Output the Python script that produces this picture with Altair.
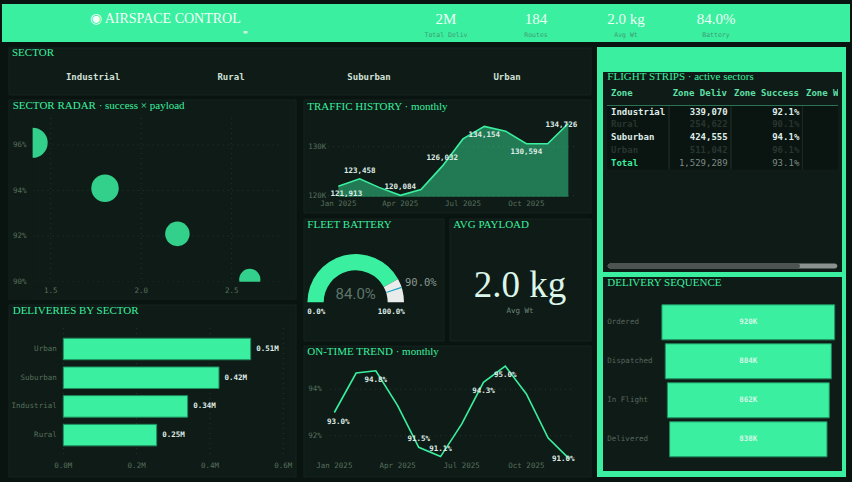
import altair as alt
import pandas as pd

# ---------------- data ----------------
SECTORS = ["Industrial", "Rural", "Suburban", "Urban"]
SECTOR_DELIVERIES = [339070, 254622, 424555, 511042]
SECTOR_SUCCESS = [92.1, 90.1, 94.1, 96.1]
SECTOR_PAYLOAD_KG = [2.2, 2.6, 1.8, 1.4]
ACTIVE_SECTORS = ["Industrial", "Suburban"]

MONTHS = pd.date_range("2025-01-01", periods=12, freq="MS")
MONTHLY_DELIVERIES = [121913, 123458, 121702, 120084, 121268, 126032,
                      131594, 134154, 133168, 130594, 130596, 134726]
MONTHLY_ON_TIME = [93.0, 94.7, 94.8, 93.3, 91.5, 91.1,
                   92.5, 94.3, 95.0, 93.8, 91.9, 91.0]

FUNNEL_STAGES = ["Ordered", "Dispatched", "In Flight", "Delivered"]
FUNNEL_COUNTS = [920000, 884000, 862000, 838000]

ROUTES = 184
FLEET_BATTERY = 84.0
BATTERY_TARGET = 90.0

KPI_LABELS = ["Total Deliv", "Routes", "Avg Wt", "Battery"]
TABLE_HEADERS = ["Zone", "Zone Deliv", "Zone Success", "Zone Wt"]

RADAR_X_TICKS = [1.5, 2.0, 2.5]
RADAR_Y_TICKS = [90, 92, 94, 96]
TRAFFIC_Y_TICKS = [120000, 130000]
ONTIME_Y_TICKS = [92, 94]
DELIV_X_TICKS = [0, 200000, 400000, 600000]

TOTAL_DELIVERIES = sum(SECTOR_DELIVERIES)
AVG_SUCCESS = sum(SECTOR_SUCCESS) / len(SECTOR_SUCCESS)
AVG_PAYLOAD = sum(SECTOR_PAYLOAD_KG) / len(SECTOR_PAYLOAD_KG)

# ---------------- style ----------------
GREEN = "#3AF0A0"
BG = "#09130f"
PANEL = "#0f1b16"
PANEL_EDGE = "#15251e"
GRID = "#22372d"
AXIS_TXT = "#56705f"
LIGHT = "#dfece6"
DIM = "#28352f"
SERIF = "Liberation Serif"
MONO = "DejaVu Sans Mono"

ONE = pd.DataFrame({"k": [0]})


def rect(x1, y1, x2, y2, fill, **kw):
    return alt.Chart(ONE).mark_rect(fill=fill, **kw).encode(
        x=alt.value(x1), x2=alt.value(x2), y=alt.value(y1), y2=alt.value(y2))


def text(x, y, s, size, color, font=MONO, weight="normal", align="left",
         baseline="middle", **kw):
    return alt.Chart(ONE).mark_text(
        text=s, fontSize=size, color=color, font=font, fontWeight=weight,
        align=align, baseline=baseline, **kw).encode(x=alt.value(x), y=alt.value(y))


def panel(x1, y1, x2, y2):
    return rect(x1, y1, x2, y2, PANEL, stroke=PANEL_EDGE, strokeWidth=1)


def title(x, y, s):
    return text(x, y, s, 11, GREEN, font=SERIF)


def lin(domain, rng):
    return alt.Scale(domain=domain, range=rng, zero=False, nice=False)


def ticks(values):
    return pd.DataFrame({"v": values})


layers = []

# ---------------- banner ----------------
kpi_df = pd.DataFrame({
    "label": KPI_LABELS,
    "value": [f"{round(TOTAL_DELIVERIES / 1e6)}M", f"{ROUTES}",
              f"{AVG_PAYLOAD:.1f} kg", f"{FLEET_BATTERY:.1f}%"],
})
KPI_X = alt.Scale(type="point", domain=KPI_LABELS, range=[401, 761], padding=0.5)
layers += [
    rect(2, 4, 850, 42, GREEN),
    text(90, 18.5, "◉ AIRSPACE CONTROL", 14, "#f4fff9", font=SERIF),
    rect(243.5, 31, 247.5, 33.5, "#cfeee0"),
    alt.layer(
        alt.Chart(kpi_df).mark_text(font=SERIF, fontSize=15, color="#effff7").encode(
            x=alt.X("label:N", scale=KPI_X, axis=None), y=alt.value(18.5), text="value:N"),
        alt.Chart(kpi_df).mark_text(font=MONO, fontSize=6.5, color="#3f9c74").encode(
            x=alt.X("label:N", scale=KPI_X, axis=None), y=alt.value(35), text="label:N"),
    ),
]

# ---------------- panels ----------------
layers += [
    panel(9, 48, 591, 95),
    panel(9, 100, 296, 299),
    panel(9, 305, 296, 477),
    panel(304, 100, 591, 213),
    panel(304, 219, 444, 341),
    panel(450, 219, 591, 341),
    panel(304, 346, 591, 477),
    rect(597, 47, 846, 477, GREEN),
    rect(603, 72, 842, 272, PANEL),
    rect(603, 277, 842, 471, PANEL),
]

# ---------------- sector strip ----------------
layers += [
    title(12, 53, "SECTOR"),
    alt.Chart(pd.DataFrame({"sector": SECTORS})).mark_text(
        font=MONO, fontSize=9, fontWeight="bold", color="#cfe0d8").encode(
        x=alt.X("sector:N", scale=alt.Scale(type="point", domain=SECTORS,
                                             range=[24, 576], padding=0.5), axis=None),
        y=alt.value(76.5), text="sector:N"),
]

# ---------------- sector radar (scatter) ----------------
radar_df = pd.DataFrame({"sector": SECTORS, "payload": SECTOR_PAYLOAD_KG,
                         "success": SECTOR_SUCCESS, "deliveries": SECTOR_DELIVERIES})
RX = lin([1.4, 2.8], [32.6, 286])
RY = lin([90, 96], [281.7, 145])
layers += [
    alt.layer(
        alt.Chart(ticks(RADAR_Y_TICKS)).mark_rule(color=GRID, strokeDash=[1, 4]).encode(
            y=alt.Y("v:Q", scale=RY, axis=None), x=alt.value(32.6), x2=alt.value(283)),
        alt.Chart(ticks(RADAR_X_TICKS)).mark_rule(color=GRID, strokeDash=[1, 4]).encode(
            x=alt.X("v:Q", scale=RX, axis=None), y=alt.value(118), y2=alt.value(281.7)),
        alt.Chart(radar_df).mark_circle(color=GREEN, opacity=0.85).encode(
            x=alt.X("payload:Q", scale=RX, axis=None),
            y=alt.Y("success:Q", scale=RY, axis=None),
            size=alt.Size("deliveries:Q", scale=alt.Scale(domain=[0, 520000], range=[0, 924]),
                          legend=None)),
        # plot-area clipping on the left and bottom edges
        rect(9.5, 116, 32.6, 298.5, PANEL),
        rect(9.5, 281.7, 295.5, 298.5, PANEL),
        alt.Chart(ticks(RADAR_Y_TICKS)).transform_calculate(t="datum.v + '%'").mark_text(
            font=MONO, fontSize=7.5, color=AXIS_TXT, align="left").encode(
            x=alt.value(13), y=alt.Y("v:Q", scale=RY, axis=None), text="t:N"),
        alt.Chart(ticks(RADAR_X_TICKS)).mark_text(
            font=MONO, fontSize=7.5, color=AXIS_TXT).encode(
            x=alt.X("v:Q", scale=RX, axis=None), y=alt.value(290.5),
            text=alt.Text("v:Q", format=".1f")),
    ),
    title(12.7, 106, "SECTOR RADAR · success × payload"),
]

# ---------------- deliveries by sector ----------------
order = [s for _, s in sorted(zip(SECTOR_DELIVERIES, SECTORS), reverse=True)]
deliv_df = pd.DataFrame({"sector": SECTORS, "deliveries": SECTOR_DELIVERIES})
DX = lin([0, 600000], [63.3, 283.3])
DY = alt.Scale(type="band", domain=order, range=[334.65, 449.45],
               paddingInner=0.25, paddingOuter=0.125)
layers += [
    title(12.7, 311, "DELIVERIES BY SECTOR"),
    alt.layer(
        alt.Chart(ticks(DELIV_X_TICKS)).mark_rule(color=GRID, strokeDash=[1, 4]).encode(
            x=alt.X("v:Q", scale=DX, axis=None), y=alt.value(328), y2=alt.value(457)),
        alt.Chart(deliv_df).mark_bar(color=GREEN, stroke="#1f8c5e", strokeWidth=1).encode(
            x=alt.X("deliveries:Q", scale=DX, axis=None),
            y=alt.Y("sector:N", scale=DY, axis=None)),
        alt.Chart(deliv_df).transform_calculate(
            t="format(datum.deliveries / 1e6, '.2f') + 'M'").mark_text(
            font=MONO, fontSize=7.5, fontWeight="bold", color=LIGHT, align="left", dx=5.5).encode(
            x=alt.X("deliveries:Q", scale=DX, axis=None),
            y=alt.Y("sector:N", scale=DY, axis=None), text="t:N"),
        alt.Chart(deliv_df).mark_text(
            font=MONO, fontSize=7.5, color=AXIS_TXT, align="right").encode(
            x=alt.value(56.7), y=alt.Y("sector:N", scale=DY, axis=None), text="sector:N"),
        alt.Chart(ticks(DELIV_X_TICKS)).transform_calculate(
            t="format(datum.v / 1e6, '.1f') + 'M'").mark_text(
            font=MONO, fontSize=7.5, color=AXIS_TXT).encode(
            x=alt.X("v:Q", scale=DX, axis=None), y=alt.value(466), text="t:N"),
    ),
]

# ---------------- traffic history ----------------
traffic_df = pd.DataFrame({"month": MONTHS, "deliveries": MONTHLY_DELIVERIES})
TX = alt.Scale(type="time",
               domain=[alt.DateTime(year=2024, month=12, date=17),
                       alt.DateTime(year=2025, month=12, date=14)],
               range=[328, 577.3], nice=False)
TY = lin([119800, 136000], [196.7, 117.3])
month_ticks = pd.DataFrame({"month": MONTHS[[0, 3, 6, 9]]})


def point_labels(df, field, xs, ys, fmt, groups):
    """Value labels for a monthly series, placed above / below / beside the line."""
    out = []
    for months, dx, dy in groups:
        out.append(
            alt.Chart(df).transform_calculate(m="month(datum.month)").transform_filter(
                f"indexof({months}, datum.m) >= 0").mark_text(
                font=MONO, fontSize=7.5, fontWeight="bold", color=LIGHT, dx=dx, dy=dy).encode(
                x=alt.X("month:T", scale=xs, axis=None),
                y=alt.Y(f"{field}:Q", scale=ys, axis=None),
                text=alt.Text(f"{field}:Q", format=fmt)))
    return out


layers += [
    title(307.3, 106.7, "TRAFFIC HISTORY · monthly"),
    alt.layer(
        alt.Chart(ticks(TRAFFIC_Y_TICKS)).mark_rule(color=GRID, strokeDash=[1, 4]).encode(
            y=alt.Y("v:Q", scale=TY, axis=None), x=alt.value(328), x2=alt.value(577)),
        alt.Chart(traffic_df).mark_area(color=GREEN, opacity=0.45).encode(
            x=alt.X("month:T", scale=TX, axis=None),
            y=alt.Y("deliveries:Q", scale=TY, axis=None),
            y2=alt.datum(119800)),
        alt.Chart(traffic_df).mark_line(color=GREEN, strokeWidth=1.6).encode(
            x=alt.X("month:T", scale=TX, axis=None),
            y=alt.Y("deliveries:Q", scale=TY, axis=None)),
        *point_labels(traffic_df, "deliveries", TX, TY, ",d",
                      [([0], 8, 8), ([1, 3, 5], 0, -8), ([7, 9], 0, 8.5), ([11], -7, 1)]),
        alt.Chart(ticks(TRAFFIC_Y_TICKS)).transform_calculate(
            t="format(datum.v / 1000, 'd') + 'K'").mark_text(
            font=MONO, fontSize=7.5, color=AXIS_TXT, align="left").encode(
            x=alt.value(308.3), y=alt.Y("v:Q", scale=TY, axis=None), text="t:N"),
        alt.Chart(month_ticks).mark_text(font=MONO, fontSize=7.5, color=AXIS_TXT).encode(
            x=alt.X("month:T", scale=TX, axis=None), y=alt.value(203.5),
            text=alt.Text("month:T", timeUnit="yearmonth", format="%b %Y")),
    ),
]

# ---------------- on-time trend ----------------
ontime_df = pd.DataFrame({"month": MONTHS, "on_time": MONTHLY_ON_TIME})
OX = alt.Scale(type="time",
               domain=[alt.DateTime(year=2024, month=12, date=22),
                       alt.DateTime(year=2025, month=12, date=6)],
               range=[327.3, 572.8], nice=False)
OY = lin([92, 94], [435.7, 389.3])
layers += [
    title(307.3, 351.7, "ON-TIME TREND · monthly"),
    alt.layer(
        alt.Chart(ticks(ONTIME_Y_TICKS)).mark_rule(color=GRID, strokeDash=[1, 4]).encode(
            y=alt.Y("v:Q", scale=OY, axis=None), x=alt.value(330), x2=alt.value(572)),
        alt.Chart(ontime_df).mark_line(color=GREEN, strokeWidth=1.6).encode(
            x=alt.X("month:T", scale=OX, axis=None),
            y=alt.Y("on_time:Q", scale=OY, axis=None)),
        *[c.transform_calculate(t="format(datum.on_time, '.1f') + '%'").encode(text="t:N")
          for c in point_labels(ontime_df, "on_time", OX, OY, ".1f",
                                [([0], 4, 9.5), ([2, 7, 8], 0, 9), ([4, 5], 0, -8),
                                 ([11], -6, 0)])],
        alt.Chart(ticks(ONTIME_Y_TICKS)).transform_calculate(t="datum.v + '%'").mark_text(
            font=MONO, fontSize=7.5, color=AXIS_TXT, align="left").encode(
            x=alt.value(308.3), y=alt.Y("v:Q", scale=OY, axis=None), text="t:N"),
        alt.Chart(month_ticks).mark_text(font=MONO, fontSize=7.5, color=AXIS_TXT).encode(
            x=alt.X("month:T", scale=OX, axis=None), y=alt.value(466.3),
            text=alt.Text("month:T", timeUnit="yearmonth", format="%b %Y")),
    ),
]

# ---------------- fleet battery gauge ----------------
gauge_df = pd.DataFrame({
    "start": [0, FLEET_BATTERY, BATTERY_TARGET - 0.5],
    "end": [FLEET_BATTERY, 100, BATTERY_TARGET + 0.5],
    "part": ["charge", "rest", "target"],
})
THETA = alt.Scale(domain=[0, 100], range=[4.71239, 7.85398])
GAUGE_COLORS = alt.Scale(domain=["charge", "rest", "target"],
                         range=[GREEN, "#e9ecea", "#1ba3c6"])
layers += [
    title(307.3, 225, "FLEET BATTERY"),
    alt.Chart(gauge_df).mark_arc(radius=48.3, radius2=32).encode(
        theta=alt.Theta("start:Q", scale=THETA),
        theta2="end:Q",
        color=alt.Color("part:N", scale=GAUGE_COLORS, legend=None),
        x=alt.value(355.7), y=alt.value(302.3)),
    text(355.7, 294, f"{FLEET_BATTERY:.1f}%", 15, "#5d756b", font="Roboto", align="center"),
    text(405, 283.3, f"{BATTERY_TARGET:.1f}%", 10.5, "#8a9993", align="left"),
    text(307.3, 311.7, "0.0%", 7.5, LIGHT, weight="bold"),
    text(377.7, 311.7, "100.0%", 7.5, LIGHT, weight="bold"),
]

# ---------------- avg payload ----------------
layers += [
    title(453.3, 225, "AVG PAYLOAD"),
    text(520, 297, f"{AVG_PAYLOAD:.1f} kg", 37, "#dcf6ea", font=SERIF,
         align="center", baseline="alphabetic"),
    text(520, 310.7, "Avg Wt", 7.5, "#6d887c", align="center"),
]

# ---------------- flight strips table ----------------
ROWS = SECTORS + ["Total"]
table_df = pd.DataFrame({
    "zone": ROWS,
    "deliveries": SECTOR_DELIVERIES + [TOTAL_DELIVERIES],
    "success": SECTOR_SUCCESS + [round(AVG_SUCCESS, 1)],
})
ROW_Y = alt.Scale(type="point", domain=ROWS, range=[111.7, 162.7], padding=0)
row_color = (f"datum.zone == 'Total' ? '{GREEN}' : "
             f"(indexof({ACTIVE_SECTORS}, datum.zone) >= 0 ? '{LIGHT}' : '{DIM}')")
val_color = (f"datum.zone == 'Total' ? '#7d8b85' : "
             f"(indexof({ACTIVE_SECTORS}, datum.zone) >= 0 ? '{LIGHT}' : '{DIM}')")


def table_col(field, x, align, fmt=None, color_expr=val_color, total=False):
    base = alt.Chart(table_df).transform_filter(
        "datum.zone " + ("==" if total else "!=") + " 'Total'").transform_calculate(
        clr=color_expr)
    if fmt == "pct":
        base = base.transform_calculate(t="format(datum.success, '.1f') + '%'")
        txt = "t:N"
    elif fmt == "int":
        txt = alt.Text(f"{field}:Q", format=",d")
    else:
        txt = f"{field}:N"
    return base.mark_text(font=MONO, fontSize=9, align=align,
                          fontWeight="normal" if (total and field != "zone") else "bold").encode(
        x=alt.value(x), y=alt.Y("zone:N", scale=ROW_Y, axis=None), text=txt,
        color=alt.Color("clr:N", scale=None))


header_x = [611, 672.7, 734, 806]
layers += [
    title(607.3, 77.3, "FLIGHT STRIPS · active sectors"),
    *[text(hx, 92.7, h, 9, "#5fe0a8", weight="bold") for hx, h in zip(header_x, TABLE_HEADERS)],
    # the last column runs past the strip's visible width
    rect(838, 84, 842, 100, PANEL),
    rect(842, 72, 846, 272, GREEN),
    rect(607, 105.5, 838, 169.5, "#0a1411"),
    rect(607, 105, 838, 106, "#2b7355"),
    rect(668.5, 106, 669.5, 169.5, "#22312b"),
    rect(730.5, 106, 731.5, 169.5, "#22312b"),
    rect(802, 106, 803, 169.5, "#1b2823"),
    alt.layer(
        *[table_col("zone", 611, "left", color_expr=row_color, total=t) for t in (False, True)],
        *[table_col("deliveries", 727.7, "right", fmt="int", total=t) for t in (False, True)],
        *[table_col("success", 799.3, "right", fmt="pct", total=t) for t in (False, True)],
    ),
    rect(607.7, 263.5, 837.3, 268.5, "#8b918e", cornerRadius=2.5),
    rect(607.7, 263.5, 800, 268.5, "#4d5350", cornerRadius=2.5),
]

# ---------------- delivery sequence funnel ----------------
funnel_df = pd.DataFrame({"stage": FUNNEL_STAGES, "count": FUNNEL_COUNTS})
FX = lin([-460000, 460000], [661.9, 834.7])
FY = alt.Scale(type="band", domain=FUNNEL_STAGES, range=[302.8, 458.8],
               paddingInner=0.1, paddingOuter=0.05)
funnel_base = alt.Chart(funnel_df).transform_calculate(
    lo="-datum.count / 2", hi="datum.count / 2", mid="0",
    t="format(datum.count / 1000, 'd') + 'K'")
layers += [
    title(607.3, 283.3, "DELIVERY SEQUENCE"),
    alt.layer(
        funnel_base.mark_bar(color=GREEN, stroke="#1f8c5e", strokeWidth=1).encode(
            x=alt.X("lo:Q", scale=FX, axis=None), x2="hi:Q",
            y=alt.Y("stage:N", scale=FY, axis=None)),
        funnel_base.mark_text(font=MONO, fontSize=7.5, fontWeight="bold",
                              color="#d3f7e6").encode(
            x=alt.X("mid:Q", scale=FX, axis=None),
            y=alt.Y("stage:N", scale=FY, axis=None), text="t:N"),
        funnel_base.mark_text(font=MONO, fontSize=7.5, color="#56665f", align="left").encode(
            x=alt.value(607.3), y=alt.Y("stage:N", scale=FY, axis=None), text="stage:N"),
    ),
]

chart = alt.layer(*layers).resolve_scale(
    x="independent", y="independent", size="independent",
    theta="independent", color="independent",
).properties(
    width=852, height=482, padding=0,
    autosize=alt.AutoSizeParams(type="none"),
).configure(background=BG).configure_view(strokeWidth=0)

chart.save("out.html", embed_options={"renderer": "svg", "actions": False})
